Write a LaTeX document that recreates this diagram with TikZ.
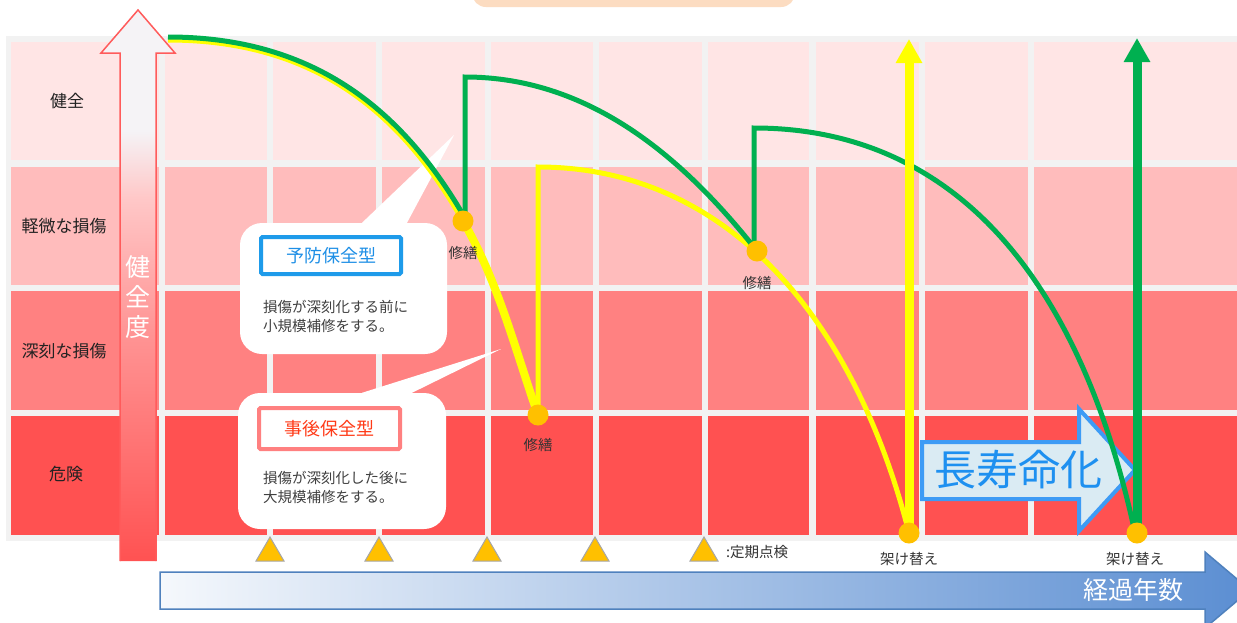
\documentclass[tikz,border=0pt]{standalone}
\usepackage{fontspec}
\setmainfont{Noto Sans CJK JP}
\usetikzlibrary{arrows.meta}

\definecolor{gridbg}{HTML}{F2F2F2}
\definecolor{rowa}{HTML}{FFE5E5}
\definecolor{rowb}{HTML}{FFBCBC}
\definecolor{rowc}{HTML}{FF8181}
\definecolor{rowd}{HTML}{FF5151}
\definecolor{ygl}{HTML}{FFFF00}
\definecolor{grn}{HTML}{00B050}
\definecolor{dotc}{HTML}{FFC000}
\definecolor{peach}{HTML}{FCDCC1}
\definecolor{arrred}{HTML}{FF5B5B}
\definecolor{htop}{HTML}{F5F3F6}
\definecolor{hpink}{HTML}{FFC8C8}
\definecolor{hmid}{HTML}{FF9595}
\definecolor{hbot}{HTML}{FF5252}
\definecolor{bluebox}{HTML}{1E9BEA}
\definecolor{bluetxt}{HTML}{1E8FE6}
\definecolor{pinkbox}{HTML}{FF8080}
\definecolor{redtxt}{HTML}{FF3A17}
\definecolor{desc}{HTML}{404040}
\definecolor{labtxt}{HTML}{222222}
\definecolor{smalltxt}{HTML}{333333}
\definecolor{longfill}{HTML}{DAEBF3}
\definecolor{longdraw}{HTML}{3D9BF5}
\definecolor{longtxt}{HTML}{1E90F0}
\definecolor{axl}{HTML}{F5F8FC}
\definecolor{axr}{HTML}{5B8ED2}
\definecolor{axdraw}{HTML}{4F81BD}
\definecolor{trig}{HTML}{A6A6A6}

\pgfdeclareverticalshading{hshade}{100bp}{color(0bp)=(hbot); color(25bp)=(hbot); color(46bp)=(hmid); color(58bp)=(hpink); color(64bp)=(htop); color(100bp)=(htop)}

\tikzset{
  rowlab/.style={font=\fontsize{17}{20}\selectfont, text=labtxt, inner sep=0pt},
  smalllab/.style={font=\fontsize{14.5}{17}\selectfont, text=smalltxt, inner sep=0pt},
  dotnode/.style={circle, fill=dotc, minimum size=21pt, inner sep=0pt},
  yline/.style={draw=ygl, line width=5pt},
  gline/.style={draw=grn, line width=5pt},
  cbox/.style={fill=white, rounded corners=22pt, inner sep=0pt},
  typebox/.style={fill=white, line width=4pt, inner sep=0pt, rounded corners=1.5pt, font=\fontsize{18}{20}\selectfont},
  descr/.style={anchor=west, align=left, inner sep=0pt, font=\fontsize{14.5}{19}\selectfont, text=desc},
  bigarrow/.style={line width=9pt, -{Triangle[width=25pt,length=24pt]}},
  insp/.style={fill=dotc, draw=trig, line width=1pt, line join=miter}
}

\begin{document}
\begin{tikzpicture}[x=1pt, y=-1pt]
\useasboundingbox (0,0) rectangle (1237,622);
\fill[white] (0,0) rectangle (1237,622);

% title box (cut off)
\fill[peach, rounded corners=14pt] (472,-40) rectangle (795,7);

% grid
\fill[gridbg] (6,36) rectangle (1237,541);
\foreach \ya/\yb/\c in {42/160/rowa,167/285/rowb,291/410/rowc,416/535/rowd}
  \foreach \xa/\xb in {11/159,165/267,273/376,382/485,491/593,599/702,708/809,816/919,925/1028,1034/1237}
    \fill[\c] (\xa,\ya) rectangle (\xb,\yb);

% row labels
\node[rowlab] (lab1) at (67,101) {健全};
\node[rowlab] (lab2) at (64,226) {軽微な損傷};
\node[rowlab] (lab3) at (64,351) {深刻な損傷};
\node[rowlab] (lab4) at (66,474) {危険};

% health axis arrow
\shadedraw[shading=hshade, draw=arrred, line width=1.5pt, line join=miter]
  (120,561) -- (120,53) -- (101,53) -- (138,10) -- (175,53) -- (156,53) -- (156,561);
\node[font=\fontsize{25}{30}\selectfont, text=white, align=center, inner sep=0pt] (hlab) at (138,297) {健\\全\\度};

% callouts
\node[cbox, minimum width=207pt, minimum height=131pt] (cb1) at (343.5,288.5) {};
\coordinate (tip1) at (454,135);
\fill[white] ([xshift=18.5pt]cb1.north) -- (tip1) -- ([xshift=63.5pt]cb1.north) -- cycle;
\node[typebox, draw=bluebox, text=bluetxt, minimum width=140pt, minimum height=37pt] (tb1) at (331,255.5) {予防保全型};
\node[descr] (ds1) at (263,316.5) {損傷が深刻化する前に\\小規模補修をする。};

\node[cbox, minimum width=208pt, minimum height=136pt] (cb2) at (342,461) {};
\coordinate (tip2) at (501,349);
\fill[white] ([xshift=20pt]cb2.north) -- (tip2) -- ([xshift=70pt]cb2.north) -- cycle;
\node[typebox, draw=pinkbox, text=redtxt, minimum width=141pt, minimum height=41pt] (tb2) at (329.5,428.5) {事後保全型};
\node[descr] (ds2) at (263,487.5) {損傷が深刻化した後に\\大規模補修をする。};

% long life arrow
\draw[longdraw, line width=4pt, fill=longfill, line join=miter]
  (922,442) -- (1079,442) -- (1079,409) -- (1135,470) -- (1079,531) -- (1079,499) -- (922,499) -- cycle;
\node[font=\fontsize{42}{44}\selectfont, text=longtxt, inner sep=0pt] (lt) at (1018,470) {長寿命化};

% key points
\coordinate (st) at (168,40);
\coordinate (rp1) at (463,221);
\coordinate (rp2) at (538,415);
\coordinate (rp3) at (757,251);
\coordinate (rpl1) at (909,533);
\coordinate (rpl2) at (1137,533);
\coordinate (ytip) at (909,39);
\coordinate (gtip) at (1137,38);

% yellow (corrective maintenance)
\draw[yline] (st) .. controls (318,40) and (403,116) .. (rp1);
\draw[yline, line width=8pt] (rp1) .. controls (498,281) and (515,349) .. (rp2);
\draw[yline, line join=miter] (rp2) -- (538,167) .. controls (728,167) and (855,320) .. (rpl1);

% green (preventive maintenance)
\draw[gline] (168,37) .. controls (318,37) and (405,114) .. (465,218);
\draw[gline, line join=miter] (465,221) -- (465,77) .. controls (595,77) and (689,165) .. (rp3);
\draw[gline, line join=miter] (754,251) -- (754,128) .. controls (954,128) and (1080,278) .. (1135,533);

% replacement arrows
\draw[bigarrow, ygl] (rpl1) -- (ytip);
\draw[bigarrow, grn] (rpl2) -- (gtip);

% dots
\node[dotnode] (d1) at (rp1) {};
\node[dotnode] (d2) at (rp2) {};
\node[dotnode] (d3) at (rp3) {};
\node[dotnode] (d4) at (rpl1) {};
\node[dotnode] (d5) at (rpl2) {};

\node[smalllab] (m1) at (463,253) {修繕};
\node[smalllab] (m2) at (538,445) {修繕};
\node[smalllab] (m3) at (757,283) {修繕};
\node[smalllab] (k1) at (909,559) {架け替え};
\node[smalllab] (k2) at (1135,559) {架け替え};

% inspections
\foreach \x in {270,379,487,595,704}
  \filldraw[insp] (\x-14,561) -- (\x,537) -- (\x+14,561) -- cycle;
\node[smalllab, anchor=west] (ins) at (726,552) {:定期点検};

% time axis
\draw[axdraw, line width=1.5pt, left color=axl, right color=axr, line join=miter]
  (160,572) -- (1205,572) -- (1205,552) -- (1250,590) -- (1205,628) -- (1205,609) -- (160,609) -- cycle;
\node[font=\fontsize{25}{27}\selectfont, text=white, inner sep=0pt] (axlab) at (1133,590) {経過年数};
\end{tikzpicture}
\end{document}
